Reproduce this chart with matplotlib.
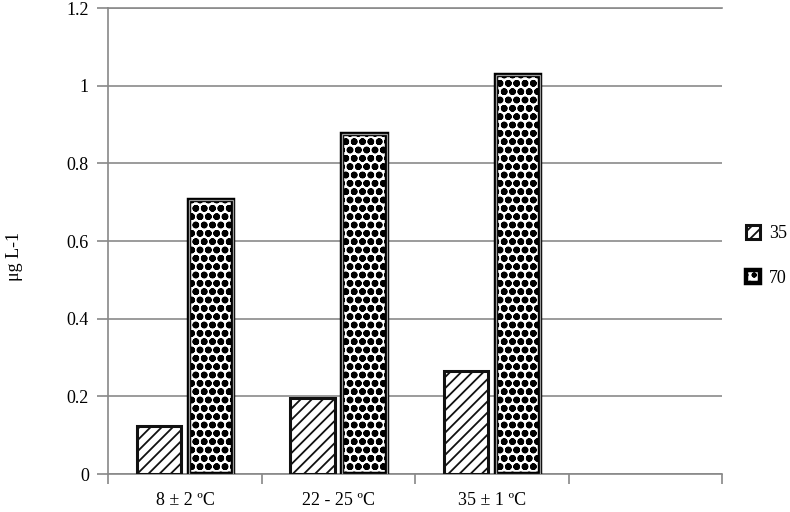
import matplotlib.pyplot as plt
import numpy as np

# categories and series
categories = ['8 ± 2 ºC', '22 - 25 ºC', '35 ± 1 ºC', '']
vals_35 = [0.125, 0.195, 0.265, np.nan]
vals_70 = [0.705, 0.877, 1.028, np.nan]
series_names = ['35', '70']
yticks = [0, 0.2, 0.4, 0.6, 0.8, 1.0, 1.2]
ytick_labels = ['0', '0.2', '0.4', '0.6', '0.8', '1', '1.2']

plt.rcParams['font.family'] = ['Liberation Serif', 'DejaVu Serif']
plt.rcParams['hatch.linewidth'] = 1.3
FS = 13

fig = plt.figure(figsize=(7.9, 5.12), dpi=100)
ax = fig.add_axes([0.137, 0.074, 0.777, 0.910])

x = np.arange(len(categories))
w = 0.29
off = 0.17

ax.bar(x - off, vals_35, w, facecolor='white', edgecolor='#111111',
       hatch='///', linewidth=2.2, zorder=3, label=series_names[0])
b70 = ax.bar(x + off, vals_70, w, facecolor='white', edgecolor='black',
             hatch='oo', linewidth=3.2, zorder=3, label=series_names[1])
for p in b70:
    try:
        p.set_hatch_linewidth(2.4)
    except AttributeError:
        pass
# inner grey ring of the double border
ax.bar(x + off, vals_70, w, facecolor='none', edgecolor='#9a9a9a',
       linewidth=0.9, zorder=4)

ax.set_xlim(-0.5, len(categories) - 0.5)
ax.set_ylim(0, 1.2)
ax.set_yticks(yticks)
ax.set_yticklabels(ytick_labels, fontsize=FS)
ax.set_xticks(x)
ax.set_xticklabels(categories, fontsize=FS)
ax.set_xticks(np.arange(len(categories) + 1) - 0.5, minor=True)
ax.tick_params(axis='x', which='major', length=0, pad=13)
ax.tick_params(axis='x', which='minor', length=7, color='#888888', width=1.2)
ax.tick_params(axis='y', length=8, color='#888888', width=1.2, pad=6)

ax.grid(axis='y', color='#8a8a8a', linewidth=1.2, zorder=0)
ax.set_axisbelow(True)
for s in ['top', 'right']:
    ax.spines[s].set_visible(False)
for s in ['left', 'bottom']:
    ax.spines[s].set_color('#888888')
    ax.spines[s].set_linewidth(1.2)
# top gridline at 1.2
ax.axhline(1.2, color='#8a8a8a', linewidth=1.2, clip_on=False, zorder=0)

fig.text(0.018, 0.5, 'μg L-1', rotation=90, va='center', ha='center', fontsize=FS)

handles, labels = ax.get_legend_handles_labels()
fig.legend(handles, labels, loc='center left', bbox_to_anchor=(0.935, 0.5),
           frameon=False, fontsize=FS, handlelength=0.8, handleheight=0.8,
           labelspacing=1.5, handletextpad=0.5, borderaxespad=0)

fig.savefig('out.png', dpi=100)
